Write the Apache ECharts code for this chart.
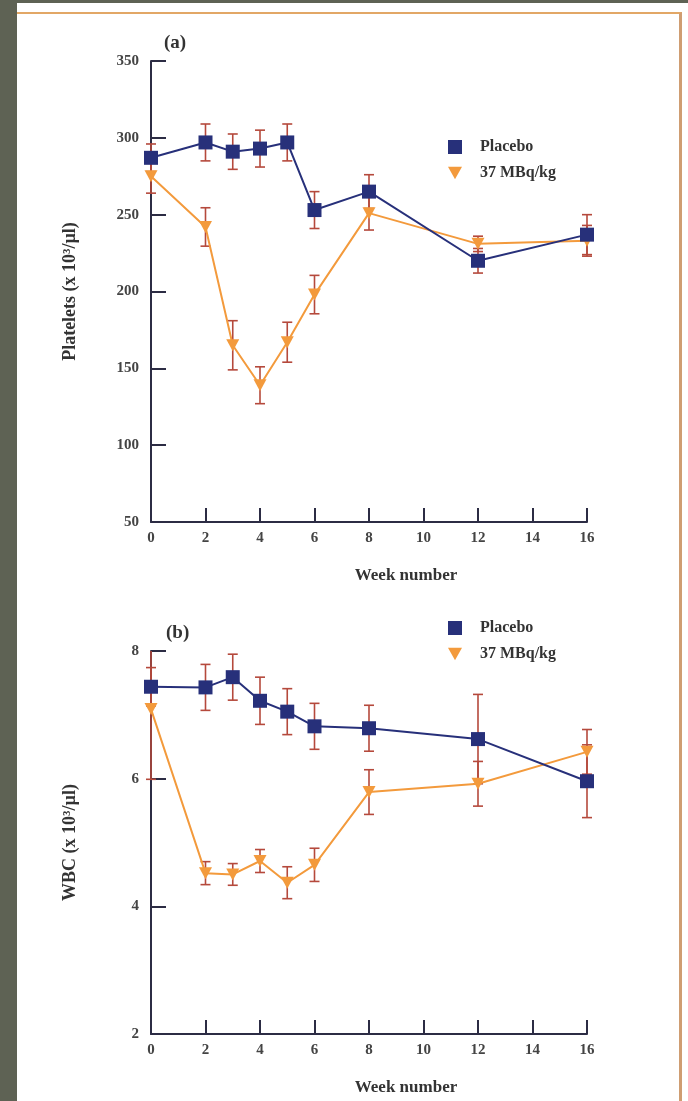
<!DOCTYPE html>
<html>
<head>
    <meta charset="UTF-8">
    <title>Platelets and WBC</title>
    <style>
        html, body { margin: 0; padding: 0; }
        body { width: 688px; height: 1101px; background: #5e6254; position: relative; overflow: hidden; }
        .panel { position: absolute; left: 17px; top: 3px; width: 671px; height: 1098px; background: #fff; }
        .frame { position: absolute; left: 17px; top: 12px; width: 662px; height: 1089px;
                 border-top: 2px solid #e2a766; border-right: 3px solid #cf9d72; }
        #main { position: absolute; left: 0; top: 0; width: 688px; height: 1101px; }
    </style>
    <script src="https://cdn.jsdelivr.net/npm/echarts@6/dist/echarts.min.js"></script>
</head>
<body>
<div class="panel"></div>
<div class="frame"></div>
<div id="main"></div>
<script type="text/javascript">
    // weeks
    var weeks = [0, 2, 3, 4, 5, 6, 8, 12, 16];

    // (a) platelets (x 10^3/ul)
    var pltPlacebo    = [287, 297, 291, 293, 297, 253, 265, 220, 237];
    var pltPlaceboErr = [9, 12, 11.5, 12, 12, 12, 11, 8, 13];
    var pltDose       = [275, 242, 165, 139, 167, 198, 251, 231, 233];
    var pltDoseErr    = [11, 12.5, 16, 12, 13, 12.5, 11, 5, 10];

    // (b) WBC (x 10^3/ul)
    var wbcPlacebo    = [7.44, 7.43, 7.59, 7.22, 7.05, 6.82, 6.79, 6.62, 5.96];
    var wbcPlaceboErr = [0.3, 0.36, 0.36, 0.37, 0.36, 0.36, 0.36, 0.7, 0.57];
    var wbcDose       = [7.09, 4.52, 4.5, 4.71, 4.37, 4.65, 5.79, 5.92, 6.42];
    var wbcDoseErr    = [1.1, 0.18, 0.17, 0.18, 0.25, 0.26, 0.35, 0.35, 0.35];

    var xTicks = [0, 2, 4, 6, 8, 10, 12, 14, 16];

    var navy = '#27307a';
    var orange = '#f39a3c';
    var errColor = '#b5493c';
    var axisColor = '#2c2c44';
    var font = 'Liberation Serif';
    var triDown = 'path://M0,0 L10,0 L5,9 Z';

    function pairs(ys) {
        return weeks.map(function (w, i) { return [w, ys[i]]; });
    }
    function errs(ys, es) {
        return weeks.map(function (w, i) { return [w, ys[i] - es[i], ys[i] + es[i]]; });
    }

    function renderErr(params, api) {
        var cs = params.coordSys;
        var lo = api.coord([api.value(0), api.value(1)]);
        var hi = api.coord([api.value(0), api.value(2)]);
        var top = Math.max(hi[1], cs.y);
        var bot = Math.min(lo[1], cs.y + cs.height);
        var style = { stroke: errColor, lineWidth: 1.6 };
        var kids = [{ type: 'line', shape: { x1: lo[0], y1: top, x2: lo[0], y2: bot }, style: style }];
        if (hi[1] >= cs.y) kids.push({ type: 'line', shape: { x1: hi[0] - 5, y1: hi[1], x2: hi[0] + 5, y2: hi[1] }, style: style });
        if (lo[1] <= cs.y + cs.height) kids.push({ type: 'line', shape: { x1: lo[0] - 5, y1: lo[1], x2: lo[0] + 5, y2: lo[1] }, style: style });
        return { type: 'group', children: kids };
    }

    function xAxis(idx) {
        return {
            gridIndex: idx, type: 'value', min: 0, max: 16, interval: 2,
            name: 'Week number', nameLocation: 'middle', nameGap: 45,
            nameTextStyle: { fontFamily: font, fontWeight: 'bold', fontSize: 17, color: '#333', padding: [0, 0, 0, 74] },
            axisLine: { lineStyle: { color: axisColor, width: 2 } },
            axisTick: { inside: true, length: 14, lineStyle: { color: axisColor, width: 2 } },
            axisLabel: { margin: 9, fontFamily: font, fontWeight: 'bold', fontSize: 15, color: '#444',
                customValues: xTicks },
            splitLine: { show: false }
        };
    }
    function yAxis(idx, min, max, step, name) {
        return {
            gridIndex: idx, type: 'value', min: min, max: max, interval: step,
            name: name, nameLocation: 'middle', nameGap: 72, nameRotate: 90,
            nameTextStyle: { fontFamily: font, fontWeight: 'bold', fontSize: 18, color: '#333' },
            axisLine: { lineStyle: { color: axisColor, width: 2 } },
            axisTick: { inside: true, length: 15, lineStyle: { color: axisColor, width: 2 } },
            axisLabel: { margin: 12, fontFamily: font, fontWeight: 'bold', fontSize: 15, color: '#444' },
            splitLine: { show: false }
        };
    }
    function legend(top) {
        return {
            orient: 'vertical', left: 443, top: top, itemGap: 10,
            itemWidth: 14, itemHeight: 14,
            textStyle: { fontFamily: font, fontWeight: 'bold', fontSize: 16, color: '#333', padding: [0, 0, 0, 13] },
            data: [{ name: 'Placebo', icon: 'rect' }, { name: '37 MBq/kg', icon: triDown }]
        };
    }
    function lineSeries(name, idx, data, color, symbol, size) {
        return {
            name: name, type: 'line', xAxisIndex: idx, yAxisIndex: idx, data: data,
            symbol: symbol, symbolSize: size, z: 3,
            itemStyle: { color: color }, lineStyle: { color: color, width: 2 }
        };
    }
    function errSeries(name, idx, data, color) {
        return {
            name: name, type: 'custom', xAxisIndex: idx, yAxisIndex: idx, data: data,
            itemStyle: { color: color },
            renderItem: renderErr, z: 2, silent: true
        };
    }

    var myChart = echarts.init(document.getElementById('main'));
    var option = {
        animation: false,
        backgroundColor: 'transparent',
        title: [
            { text: '(a)', left: 159, top: 29, textStyle: { fontFamily: font, fontWeight: 'bold', fontSize: 19, color: '#333' } },
            { text: '(b)', left: 161, top: 619, textStyle: { fontFamily: font, fontWeight: 'bold', fontSize: 19, color: '#333' } }
        ],
        legend: [legend(134), legend(615)],
        grid: [
            { left: 151, top: 61, width: 436, height: 461 },
            { left: 151, top: 651, width: 436, height: 383 }
        ],
        xAxis: [xAxis(0), xAxis(1)],
        yAxis: [
            yAxis(0, 50, 350, 50, 'Platelets (x 10\u00b3/\u00b5l)'),
            yAxis(1, 2, 8, 2, 'WBC (x 10\u00b3/\u00b5l)')
        ],
        series: [
            lineSeries('37 MBq/kg', 0, pairs(pltDose), orange, triDown, [13, 12]),
            lineSeries('Placebo', 0, pairs(pltPlacebo), navy, 'rect', 14),
            errSeries('Placebo', 0, errs(pltPlacebo, pltPlaceboErr), navy),
            errSeries('37 MBq/kg', 0, errs(pltDose, pltDoseErr), orange),
            lineSeries('37 MBq/kg', 1, pairs(wbcDose), orange, triDown, [13, 12]),
            lineSeries('Placebo', 1, pairs(wbcPlacebo), navy, 'rect', 14),
            errSeries('Placebo', 1, errs(wbcPlacebo, wbcPlaceboErr), navy),
            errSeries('37 MBq/kg', 1, errs(wbcDose, wbcDoseErr), orange)
        ]
    };
    myChart.setOption(option);
</script>
</body>
</html>
